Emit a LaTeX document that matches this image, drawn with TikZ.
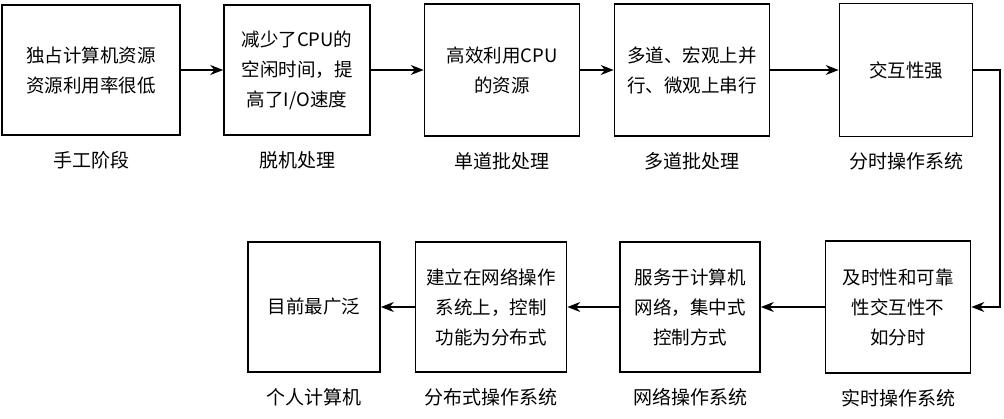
\documentclass[tikz,border=0pt]{standalone}
\usepackage{fontspec}
\setmainfont{Noto Sans CJK SC}
\usetikzlibrary{arrows.meta,positioning}

\begin{document}
\begin{tikzpicture}[x=1pt,y=-1pt,
            box/.style={rectangle, draw, line width=1.6pt, align=center, inner sep=2pt, font=\fontsize{18.5}{30}\selectfont},
            lbl/.style={font=\fontsize{19}{22}\selectfont},
            arrow/.style={-{Stealth[length=13pt,width=10pt]}, line width=1.6pt}
        ]
        \useasboundingbox (0,0) rectangle (1004,419);
        % top row
        \node[box, minimum width=178, minimum height=130] (manual) at (91,70) {独占计算机资源\\资源利用率很低};
        \node[box, minimum width=146, minimum height=130] (offline) at (297,70) {减少了CPU的\\空闲时间，提\\高了I/O速度};
        \node[box, minimum width=155, minimum height=132] (single) at (502,70) {高效利用CPU\\的资源};
        \node[box, minimum width=155, minimum height=132] (multi) at (692,70) {多道、宏观上并\\行、微观上串行};
        \node[box, minimum width=133, minimum height=133] (timeshare) at (906,70) {交互性强};
        % bottom row
        \node[box, minimum width=145, minimum height=132] (realtime) at (898,307) {及时性和可靠\\性交互性不\\如分时};
        \node[box, minimum width=140, minimum height=130] (network) at (690,307) {服务于计算机\\网络，集中式\\控制方式};
        \node[box, minimum width=151, minimum height=130] (distrib) at (491,307) {建立在网络操作\\系统上，控制\\功能为分布式};
        \node[box, minimum width=132, minimum height=130] (pc) at (314,307) {目前最广泛};
        % labels
        \node[lbl, below=12pt of manual] {手工阶段};
        \node[lbl, below=12pt of offline] {脱机处理};
        \node[lbl, below=12pt of single] {单道批处理};
        \node[lbl, below=12pt of multi] {多道批处理};
        \node[lbl, below=12pt of timeshare] {分时操作系统};
        \node[lbl, below=12pt of realtime] {实时操作系统};
        \node[lbl, below=12pt of network] {网络操作系统};
        \node[lbl, below=12pt of distrib] {分布式操作系统};
        \node[lbl, below=12pt of pc] {个人计算机};
        % connectors
        \coordinate (turn1) at (1000,70);
        \coordinate (turn2) at (1000,307);
        \draw[arrow] (manual) -- (offline);
        \draw[arrow] (offline) -- (single);
        \draw[arrow] (single) -- (multi);
        \draw[arrow] (multi) -- (timeshare);
        \draw[arrow] (timeshare.east) -- (turn1) -- (turn2) -- (realtime.east);
        \draw[arrow] (realtime) -- (network);
        \draw[arrow] (network) -- (distrib);
        \draw[arrow] (distrib) -- (pc);
\end{tikzpicture}
\end{document}
